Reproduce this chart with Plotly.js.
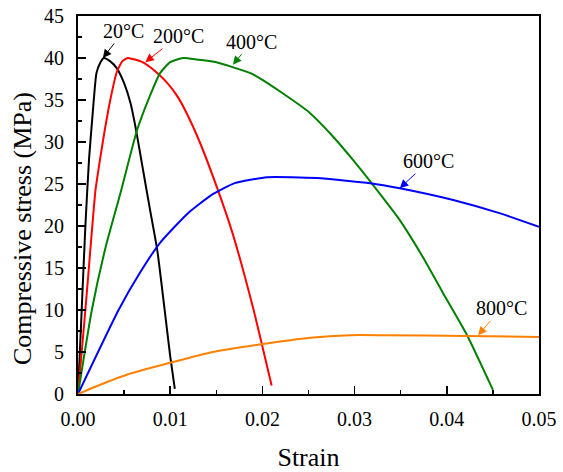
<!DOCTYPE html>
<html>
<head>
<meta charset="utf-8">
<script src="https://cdn.plot.ly/plotly-3.0.1.min.js"></script>
<style>html,body{margin:0;padding:0;background:#fff;}#chart{width:563px;height:472px;}</style>
</head>
<body>
<div id="chart"></div>
<script>
// Data
const strain20 = [0, 0.0004, 0.0008, 0.0012, 0.0016, 0.002, 0.0024, 0.0028, 0.0035, 0.0042, 0.005, 0.0057, 0.0063, 0.007, 0.0078, 0.0086, 0.0094, 0.01, 0.0105];
const stress20 = [0, 10, 20, 28, 33.5, 38.2, 39.4, 40, 39.6, 38.8, 37, 34.6, 31.4, 27, 22, 17.1, 10, 4.5, 0.6];

const strain200 = [0, 0.0008, 0.0014, 0.0019, 0.0024, 0.0029, 0.0035, 0.0042, 0.0048, 0.0054, 0.007, 0.0085, 0.0097, 0.0108, 0.0118, 0.0132, 0.0151, 0.0168, 0.019, 0.021];
const stress200 = [0, 10, 18, 24.3, 28, 31.4, 35, 38.3, 39.6, 40, 39.5, 38.3, 37, 35.4, 33.4, 30, 24.5, 19.0, 10.2, 1];

const strain400 = [0, 0.0015, 0.003, 0.0046, 0.0064, 0.0078, 0.0089, 0.01, 0.0114, 0.013, 0.015, 0.0168, 0.0187, 0.02, 0.0222, 0.025, 0.0277, 0.0298, 0.0322, 0.0349, 0.0374, 0.0396, 0.0422, 0.045];
const stress400 = [0, 10, 17.5, 23.9, 31.4, 35.5, 38.2, 39.5, 40, 39.8, 39.5, 38.9, 38.2, 37.4, 35.8, 33.6, 30.6, 27.9, 24.6, 20.7, 16.3, 12, 7, 0.5];

const strain600 = [0, 0.0044, 0.0067, 0.0089, 0.0119, 0.0145, 0.017, 0.0205, 0.0259, 0.0317, 0.0349, 0.0407, 0.0458, 0.05];
const stress600 = [0, 10, 14.4, 18, 21.5, 23.7, 25.1, 25.8, 25.7, 25.1, 24.5, 23.1, 21.5, 19.9];

const strain800 = [0, 0.0016, 0.0053, 0.0103, 0.0146, 0.0197, 0.0252, 0.0295, 0.033, 0.0422, 0.05];
const stress800 = [0, 0.75, 2.3, 3.8, 5, 5.9, 6.7, 7, 7, 6.9, 6.8];

const seriesNames = ["20°C", "200°C", "400°C", "600°C", "800°C"];
const seriesColors = ["#000000", "#ff0000", "#008000", "#0000ff", "#ff8000"];
const strains = [strain20, strain200, strain400, strain600, strain800];
const stresses = [stress20, stress200, stress400, stress600, stress800];

// label arrow tips (data coords) and label offsets (px)
const labelTipX = [0.0027, 0.0073, 0.0168, 0.0349, 0.0434];
const labelTipY = [40, 39.5, 39.2, 24.5, 7.0];
const labelAx = [21, 33, 19, 29, 23];
const labelAy = [-27, -26, -23, -27, -27];

const xTitle = "Strain";
const yTitle = "Compressive stress (MPa)";

const FONT = "Liberation Serif";

const traces = seriesNames.map((n, i) => ({
  x: strains[i], y: stresses[i], type: "scatter", mode: "lines", name: n,
  line: {color: seriesColors[i], width: 2, shape: "spline", smoothing: 0.5},
  showlegend: false, hoverinfo: "skip"
}));

const annotations = seriesNames.map((n, i) => ({
  x: labelTipX[i], y: labelTipY[i], xref: "x", yref: "y",
  text: n, showarrow: true, ax: labelAx[i], ay: labelAy[i],
  arrowcolor: seriesColors[i], arrowwidth: 1, arrowhead: 2, arrowsize: 1.7,
  font: {family: FONT, size: 20, color: "#000"}
}));
annotations.push({
  text: yTitle, textangle: -90, showarrow: false,
  xref: "paper", yref: "paper", x: -0.1215, y: 0.439,
  xanchor: "center", yanchor: "middle",
  font: {family: FONT, size: 26, color: "#000"}
});

const layout = {
  width: 563, height: 472,
  margin: {l: 78, r: 24, t: 16, b: 78},
  paper_bgcolor: "#fff", plot_bgcolor: "#fff",
  font: {family: FONT, size: 20, color: "#000"},
  xaxis: {
    range: [0, 0.05], dtick: 0.01, tick0: 0, tickformat: ".2f",
    ticks: "inside", ticklen: 8, tickwidth: 1.5, tickcolor: "#000",
    minor: {dtick: 0.005, ticks: "inside", ticklen: 4, tickwidth: 1.5, tickcolor: "#000"},
    showline: true, linecolor: "#000", linewidth: 2, mirror: true,
    showgrid: false, zeroline: false, ticklabelstandoff: 6,
    tickfont: {family: FONT, size: 20, color: "#000"},
    title: {text: xTitle, font: {family: FONT, size: 26, color: "#000"}, standoff: 19}
  },
  yaxis: {
    range: [0, 45], dtick: 5, tick0: 0,
    ticks: "inside", ticklen: 8, tickwidth: 1.5, tickcolor: "#000",
    minor: {dtick: 2.5, ticks: "inside", ticklen: 4, tickwidth: 1.5, tickcolor: "#000"},
    showline: true, linecolor: "#000", linewidth: 2, mirror: true,
    showgrid: false, zeroline: false, ticklabelstandoff: 8,
    tickfont: {family: FONT, size: 20, color: "#000"}
  },
  annotations: annotations
};

Plotly.newPlot("chart", traces, layout, {staticPlot: true, displayModeBar: false});
</script>
</body>
</html>
